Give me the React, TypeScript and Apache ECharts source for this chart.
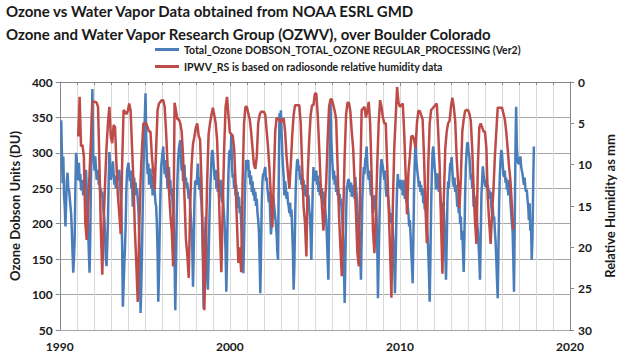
import React, { useEffect, useRef } from "react";
import * as echarts from "echarts";

const FONT = "Lato, 'Open Sans', sans-serif";

const titleLines = [
  "Ozone vs Water Vapor Data obtained from NOAA ESRL GMD",
  "Ozone and Water Vapor Research Group (OZWV), over Boulder Colorado",
];
const seriesNames = [
  "Total_Ozone DOBSON_TOTAL_OZONE REGULAR_PROCESSING (Ver2)",
  "IPWV_RS is based on radiosonde relative humidity data",
];
const leftAxisName = "Ozone Dobson Units (DU)";
const rightAxisName = "Relative Humidity as mm";

// half-monthly total ozone (DU), first sample mid-Feb 1990
const ozoneStartYear = 1990;
const ozoneStartStep = 2; // steps of 1/24 year
const ozoneStepsPerYear = 24;
const ozoneDU: number[] = [
  // 1990
  346, 300, 257, 295, 240, 225, 196, 230, 262, 272, 250, 248, 238, 225, 215, 190, 160, 131, 150, 177, 250, 300,
  // 1991
  290, 262, 275, 286, 260, 270, 247, 255, 262, 240, 261, 250, 270, 276, 250, 215, 190, 160, 131, 180, 262, 320, 390, 300,
  // 1992
  290, 275, 295, 280, 262, 270, 276, 255, 265, 245, 250, 238, 245, 225, 215, 205, 180, 150, 140, 170, 205, 260, 301, 280,
  // 1993
  262, 270, 275, 288, 270, 255, 262, 250, 268, 260, 272, 265, 276, 258, 240, 215, 170, 83, 110, 140, 166, 200, 250, 275,
  // 1994
  281, 286, 270, 260, 275, 250, 262, 224, 255, 265, 248, 258, 240, 250, 235, 220, 190, 140, 74, 110, 160, 220, 270, 320,
  // 1995
  350, 384, 320, 290, 270, 285, 255, 265, 278, 250, 262, 240, 268, 255, 245, 230, 225, 200, 160, 90, 130, 190, 240, 280,
  // 1996
  290, 300, 309, 285, 270, 290, 265, 275, 250, 268, 280, 255, 262, 240, 250, 232, 215, 190, 150, 78, 140, 210, 260, 290,
  // 1997
  305, 312, 318, 290, 275, 285, 260, 270, 283, 255, 265, 250, 258, 245, 235, 248, 225, 210, 190, 165, 111, 160, 230, 260,
  // 1998
  260, 255, 270, 285, 260, 248, 265, 240, 230, 200, 149, 80, 130, 180, 210, 160, 125, 107, 150, 200, 240, 265, 290, 304,
  // 1999
  300, 285, 270, 262, 276, 250, 265, 245, 258, 238, 250, 262, 240, 230, 245, 225, 210, 190, 160, 104, 150, 220, 270, 300,
  // 2000
  304, 290, 325, 280, 265, 270, 250, 262, 240, 255, 230, 245, 222, 238, 215, 225, 200, 180, 160, 130, 170, 230, 270, 290,
  // 2001
  280, 276, 290, 265, 275, 255, 268, 245, 260, 240, 250, 232, 245, 225, 235, 215, 205, 190, 150, 102, 160, 230, 260, 270,
  // 2002
  270, 276, 280, 260, 265, 250, 240, 230, 245, 210, 185, 200, 225, 240, 230, 220, 210, 200, 185, 160, 149, 260, 356, 340,
  // 2003
  360, 330, 300, 280, 265, 240, 260, 250, 235, 245, 230, 225, 215, 230, 210, 220, 190, 160, 107, 140, 200, 250, 275, 290,
  // 2004
  290, 275, 282, 262, 270, 255, 265, 248, 262, 240, 255, 245, 238, 250, 230, 240, 220, 210, 185, 149, 200, 250, 280, 260,
  // 2005
  270, 262, 275, 255, 268, 245, 260, 240, 255, 235, 250, 230, 245, 225, 238, 215, 205, 180, 150, 121, 200, 290, 375, 320,
  // 2006
  300, 280, 262, 275, 255, 268, 245, 258, 240, 250, 230, 242, 225, 235, 215, 200, 170, 140, 88, 150, 210, 250, 255, 262,
  // 2007
  262, 250, 245, 258, 238, 250, 240, 255, 235, 266, 250, 240, 220, 200, 177, 190, 160, 121, 180, 238, 260, 280, 270, 290,
  // 2008
  295, 309, 285, 270, 262, 275, 255, 240, 250, 230, 215, 225, 240, 220, 230, 210, 170, 95, 150, 200, 250, 280, 291, 285,
  // 2009
  280, 270, 262, 275, 250, 238, 255, 240, 230, 220, 205, 215, 200, 210, 190, 170, 140, 102, 150, 210, 250, 270, 255, 262,
  // 2010
  250, 262, 248, 255, 240, 262, 248, 235, 250, 230, 240, 225, 215, 196, 205, 185, 160, 140, 116, 180, 250, 290, 314, 290,
  // 2011
  280, 270, 262, 252, 260, 245, 255, 240, 250, 229, 238, 220, 230, 215, 200, 185, 160, 130, 90, 150, 220, 270, 300, 309,
  // 2012
  296, 280, 270, 248, 262, 271, 255, 245, 260, 238, 225, 215, 230, 210, 220, 190, 160, 121, 170, 230, 260, 250, 270, 285,
  // 2013
  285, 294, 275, 260, 252, 265, 245, 255, 240, 224, 235, 215, 225, 200, 210, 177, 190, 160, 132, 180, 240, 280, 300, 314,
  // 2014
  314, 300, 295, 280, 262, 270, 250, 258, 224, 240, 230, 215, 225, 200, 190, 170, 150, 121, 180, 240, 260, 281, 270, 262,
  // 2015
  255, 252, 262, 248, 255, 240, 248, 235, 245, 225, 215, 225, 205, 210, 190, 175, 150, 120, 95, 160, 230, 270, 290, 304,
  // 2016
  300, 285, 270, 266, 275, 258, 265, 248, 255, 240, 262, 250, 230, 215, 200, 190, 150, 104, 200, 300, 365, 309, 290, 285,
  // 2017
  285, 290, 295, 281, 275, 270, 262, 255, 265, 250, 245, 248, 235, 225, 205, 229, 190, 200, 149, 180, 250, 309,
];

// monthly IPWV (mm), first sample Feb 1991
const ipwvStartYear = 1991;
const ipwvStartStep = 1; // steps of 1/12 year
const ipwvStepsPerYear = 12;
const ipwvMM: number[] = [
  // 1991
  6.6, 1.8, 7.8, 7.6, 9, 17, 19.1, 15.1, 11, 7, 2.4,
  // 1992
  2.4, 2.4, 2.5, 3.0, 10, 18, 23.3, 16.7, 12, 7.8, 5, 3.0,
  // 1993
  6.6, 7.4, 5.2, 5.5, 10, 13.7, 16, 18.4, 10, 3.4, 3.6, 3.9,
  // 1994
  3.5, 2.6, 3.5, 8, 12, 18, 22, 26.6, 18, 12, 8, 5,
  // 1995
  5, 5, 5.5, 6, 6, 9, 11, 13, 8, 3.4, 2.6, 2.4,
  // 1996
  2.2, 2.2, 3, 6, 9.8, 13, 15.9, 18, 22.3, 2.5, 3.5, 4.5,
  // 1997
  4.5, 5, 6, 9, 14, 19, 21, 23.7, 15, 10, 7.5, 6.6,
  // 1998
  5.5, 5, 6.5, 7, 12, 20, 27.6, 20, 12, 6.3, 5, 4,
  // 1999
  3.1, 4, 5, 7.0, 12, 18, 23, 15, 8, 3, 1.8, 4,
  // 2000
  6.1, 6.3, 6.5, 8, 12, 17, 21.9, 20, 23, 12, 5, 3.0,
  // 2001
  3.0, 3.8, 4.5, 6, 8, 10, 10.5, 9, 5, 4, 3.6, 3.6,
  // 2002
  3.6, 4, 6, 8, 10.6, 14, 17.6, 12, 6, 4.3, 4.5, 4.5,
  // 2003
  4.9, 4.6, 4.4, 6, 9, 11, 12.9, 10, 6.5, 4, 2.8, 2.8,
  // 2004
  2.8, 2.8, 5, 10, 15, 17, 21.1, 11, 7, 4, 2.8, 2.8,
  // 2005
  1.4, 1.4, 4, 7.8, 12, 15, 18, 15, 12, 7, 3, 2.1,
  // 2006
  2.1, 2.8, 3.5, 4.5, 10, 16, 20, 23.5, 16, 9, 4, 2.5,
  // 2007
  2.5, 3.5, 6, 8, 12, 16, 20.7, 22.3, 12, 3.4, 3.2, 3.0,
  // 2008
  4.3, 3.5, 2.4, 5, 11, 18, 20.7, 16, 10, 5, 2.2, 3,
  // 2009
  4.3, 5, 5, 10, 15, 20, 26.1, 15, 8, 4.3, 0.6, 2.5,
  // 2010
  3, 2.8, 2.6, 6, 11, 16, 11, 9, 6.6, 6.5, 7, 8,
  // 2011
  5, 3.5, 3.5, 4, 4.5, 9, 15, 19.5, 10, 5, 3.4, 3.2,
  // 2012
  3.0, 2.8, 2.6, 6, 10, 17, 23.2, 14, 8, 6, 5, 4.7,
  // 2013
  3, 1.9, 3, 4.7, 9, 12, 15.2, 11.6, 6, 4.5, 3.5, 3.4,
  // 2014
  3.4, 3.8, 4.7, 8, 13, 17, 19.6, 10, 5.5, 5, 5.5, 6,
  // 2015
  6, 8, 14, 17, 19.6, 16, 13, 9, 6, 3.1, 3.1, 3.1,
  // 2016
  3.1, 3.8, 4.5, 6, 8, 10.2, 12, 15, 17.9,
];

const xRange = [1990, 2020];
const ozoneRange = [50, 400];
const humidityRange = [0, 30];

function toPairs(values: number[], startYear: number, startStep: number, perYear: number) {
  return values.map((v, i) => [startYear + (startStep + i) / perYear, v]);
}

export default function App() {
  const ref = useRef<HTMLDivElement>(null);
  useEffect(() => {
    if (!ref.current) return;
    const chart = echarts.init(ref.current, null, { renderer: "svg" });
    const labelStyle = { fontFamily: FONT, fontWeight: "bold" as const, fontSize: 12, color: "#1a1a1a" };
    const axisGray = "#868686";
    chart.setOption({
      animation: false,
      backgroundColor: "#ffffff",
      textStyle: { fontFamily: FONT },
      title: {
        text: titleLines.join("\n"),
        left: 6,
        top: -1,
        padding: 0,
        textStyle: { fontFamily: FONT, fontSize: 15, fontWeight: "bold", color: "#1a1a1a", lineHeight: 23 },
      },
      legend: {
        orient: "vertical",
        left: 150,
        top: 39,
        padding: 5,
        itemWidth: 24,
        itemHeight: 3,
        itemGap: 6,
        icon: "rect",
        data: seriesNames,
        textStyle: { fontFamily: FONT, fontSize: 10.5, fontWeight: "bold", color: "#1a1a1a" },
      },
      grid: { left: 47, right: 44, top: 82, bottom: 28 },
      xAxis: {
        type: "value",
        min: xRange[0],
        max: xRange[1],
        interval: 10,
        axisLine: { show: true, lineStyle: { color: axisGray } },
        axisTick: { show: true, length: 4, lineStyle: { color: axisGray } },
        minorTick: { show: true, splitNumber: 10, length: 3, lineStyle: { color: axisGray } },
        splitLine: { show: true, lineStyle: { color: "#d9d9d9" } },
        minorSplitLine: { show: true, lineStyle: { color: "#d9d9d9" } },
        axisLabel: { ...labelStyle, margin: 10, formatter: (v: number) => String(v) },
      },
      yAxis: [
        {
          type: "value",
          min: ozoneRange[0],
          max: ozoneRange[1],
          interval: 50,
          name: leftAxisName,
          nameLocation: "middle",
          nameGap: 33,
          nameRotate: 90,
          nameTextStyle: { fontFamily: FONT, fontSize: 13, fontWeight: "bold", color: "#1a1a1a" },
          axisLine: { show: true, lineStyle: { color: axisGray } },
          axisTick: { show: true, length: 4, lineStyle: { color: axisGray } },
          splitLine: { show: true, lineStyle: { color: "#a6a6a6" } },
          axisLabel: { ...labelStyle, margin: 7 },
        },
        {
          type: "value",
          min: humidityRange[0],
          max: humidityRange[1],
          interval: 5,
          inverse: true,
          position: "right",
          name: rightAxisName,
          nameLocation: "middle",
          nameGap: 33,
          nameRotate: 90,
          nameTextStyle: { fontFamily: FONT, fontSize: 13, fontWeight: "bold", color: "#1a1a1a" },
          axisLine: { show: true, lineStyle: { color: axisGray } },
          axisTick: { show: true, length: 4, lineStyle: { color: axisGray } },
          splitLine: { show: false },
          axisLabel: { ...labelStyle, margin: 8 },
        },
      ],
      series: [
        {
          name: seriesNames[0],
          type: "line",
          yAxisIndex: 0,
          showSymbol: false,
          symbol: "none",
          lineStyle: { color: "#4A7EBB", width: 2.5 },
          itemStyle: { color: "#4A7EBB" },
          data: toPairs(ozoneDU, ozoneStartYear, ozoneStartStep, ozoneStepsPerYear),
        },
        {
          name: seriesNames[1],
          type: "line",
          yAxisIndex: 1,
          showSymbol: false,
          symbol: "none",
          lineStyle: { color: "#BE4B48", width: 2.5 },
          itemStyle: { color: "#BE4B48" },
          data: toPairs(ipwvMM, ipwvStartYear, ipwvStartStep, ipwvStepsPerYear),
        },
      ],
    });
    return () => chart.dispose();
  }, []);
  return <div ref={ref} style={{ width: 624, height: 358, position: "absolute", left: 0, top: 0 }} />;
}
